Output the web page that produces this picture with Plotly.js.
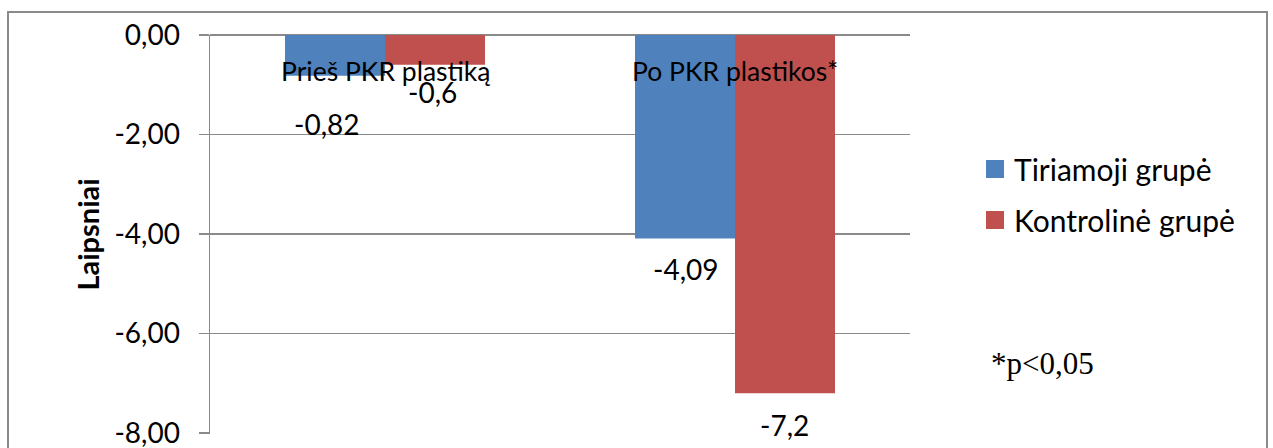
<!DOCTYPE html>
<html>
<head>
<meta charset="utf-8">
<script src="https://cdn.plot.ly/plotly-3.0.1.min.js"></script>
<style>
  html, body { margin: 0; padding: 0; background: #fff; }
  #chart { width: 1273px; height: 448px; }
</style>
</head>
<body>
<div id="chart"></div>
<script>
// Rotation angle change (degrees) before and after PKR plastics
const categories = ['Prieš PKR plastiką', 'Po PKR plastikos*'];
const seriesNames = ['Tiriamoji grupė', 'Kontrolinė grupė'];
const tiriamoji = [-0.82, -4.09];
const kontroline = [-0.6, -7.2];
const seriesColors = ['#4F81BD', '#C0504D'];
const yTickVals = [0, -2, -4, -6, -8];
const yTickText = ['0,00', '-2,00', '-4,00', '-6,00', '-8,00'];
const note = '*p<0,05';

const FONT = 'Lato, "Open Sans", sans-serif';
const GRID = '#8a8a8a';

// plot box in pixels (left, right, top, bottom)
const PL = 210, PR = 910, PT = 35, PB = 434;
const px2x = p => (p - PL) / (PR - PL);
const px2y = p => (PB - p) / (PB - PT);

function fmt(v) { return String(v).replace('.', ','); }

const traces = [
  { type: 'bar', name: seriesNames[0], x: categories, y: tiriamoji,
    marker: { color: seriesColors[0] }, hoverinfo: 'skip' },
  { type: 'bar', name: seriesNames[1], x: categories, y: kontroline,
    marker: { color: seriesColors[1] }, hoverinfo: 'skip' }
];

// value labels under each bar end; per-label nudges keep them clear of the category text
const labelShift = [
  [{ dx: -59, dy: -48 }, { dx: -50, dy: -31 }],
  [{ dx: 47, dy: -27 }, { dx: 49, dy: -32 }]
];
const annotations = [];
[tiriamoji, kontroline].forEach((vals, s) => {
  vals.forEach((v, i) => {
    annotations.push({
      x: categories[i], y: v, xref: 'x', yref: 'y',
      text: fmt(v), showarrow: false,
      xshift: labelShift[s][i].dx, yshift: labelShift[s][i].dy,
      xanchor: 'center', yanchor: 'middle',
      font: { family: FONT, size: 28, color: '#000' }
    });
  });
});
// category names sit just under the zero line, over the bars
categories.forEach(c => {
  annotations.push({
    x: c, y: 0, xref: 'x', yref: 'y', text: c, showarrow: false,
    xanchor: 'center', yanchor: 'middle', yshift: -36,
    font: { family: FONT, size: 26.5, color: '#000' }
  });
});
// legend: colour swatch + series name
const legendRows = [169, 220];
const shapes = [];
seriesNames.forEach((n, s) => {
  const cy = legendRows[s];
  shapes.push({
    type: 'rect', xref: 'paper', yref: 'paper',
    x0: px2x(986), x1: px2x(1004), y0: px2y(cy + 9), y1: px2y(cy - 9),
    line: { width: 0 }, fillcolor: seriesColors[s]
  });
  annotations.push({
    x: px2x(1012), y: px2y(cy), xref: 'paper', yref: 'paper',
    text: n, showarrow: false, xanchor: 'left', yanchor: 'middle',
    font: { family: FONT, size: 30, color: '#000' }
  });
});
annotations.push({
  x: px2x(989), y: px2y(363), xref: 'paper', yref: 'paper',
  text: note, showarrow: false, xanchor: 'left', yanchor: 'middle',
  font: { family: '"Liberation Serif", "Times New Roman", serif', size: 31, color: '#000' }
});
// outer frame
shapes.push({
  type: 'rect', xref: 'paper', yref: 'paper',
  x0: px2x(8), x1: px2x(1267), y0: px2y(560), y1: px2y(12),
  line: { color: GRID, width: 2 }, fillcolor: 'rgba(0,0,0,0)', layer: 'below'
});

const layout = {
  width: 1273, height: 448,
  margin: { l: PL, r: 1273 - PR, t: PT, b: 448 - PB, pad: 0 },
  paper_bgcolor: '#fff', plot_bgcolor: '#fff',
  barmode: 'group', bargap: 0.4286, bargroupgap: 0,
  showlegend: false,
  xaxis: {
    type: 'category', showticklabels: false, ticks: '', showgrid: false,
    showline: false, zeroline: false, fixedrange: true
  },
  yaxis: {
    range: [-8.02, 0], tickvals: yTickVals, ticktext: yTickText,
    ticks: 'outside', ticklen: 10, tickcolor: GRID, tickwidth: 1.5,
    ticklabelstandoff: 13, ticklabeloverflow: 'allow',
    showgrid: true, gridcolor: GRID, gridwidth: 1.5,
    zeroline: true, zerolinecolor: GRID, zerolinewidth: 1.5,
    showline: true, linecolor: GRID, linewidth: 1.5,
    tickfont: { family: FONT, size: 28, color: '#000' },
    title: { text: '<b>Laipsniai</b>', standoff: 6,
             font: { family: FONT, size: 29, color: '#000' } },
    fixedrange: true
  },
  annotations: annotations,
  shapes: shapes
};

Plotly.newPlot('chart', traces, layout, { staticPlot: true, displayModeBar: false });
</script>
</body>
</html>
